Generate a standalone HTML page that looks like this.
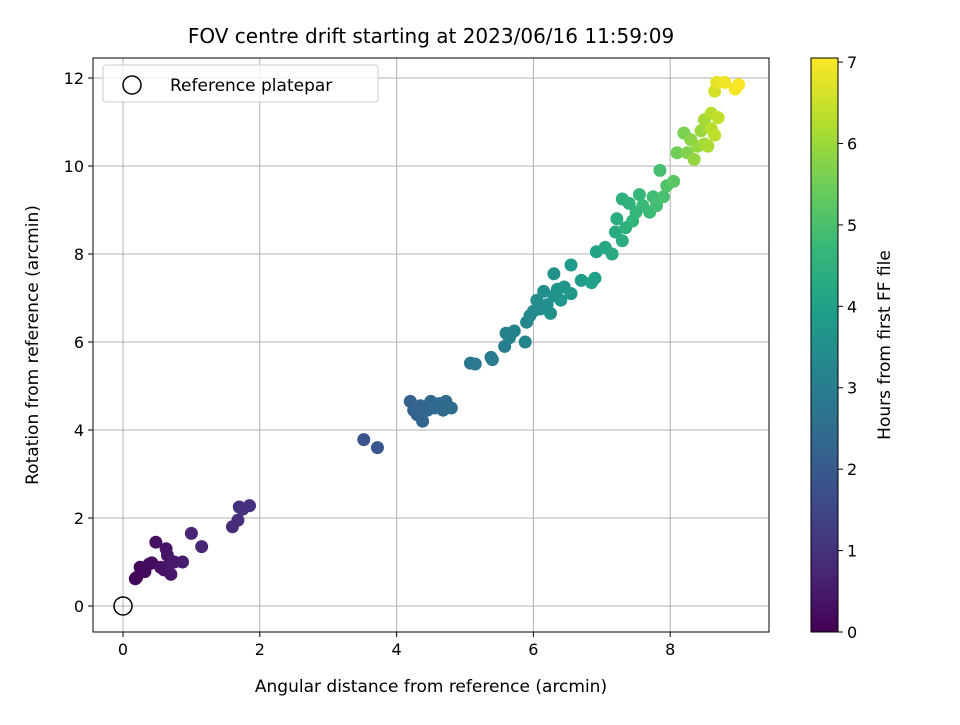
<!DOCTYPE html>
<html><head><meta charset="utf-8"><style>
body{margin:0;background:#fff;}
svg text{font-family:"DejaVu Sans","Liberation Sans",sans-serif;fill:#000;}
</style></head><body>
<svg id="chart" width="960" height="720" viewBox="0 0 960 720" xmlns="http://www.w3.org/2000/svg">
<defs><linearGradient id="vir" x1="0" y1="1" x2="0" y2="0"></linearGradient></defs>
<text x="431" y="43" font-size="20" text-anchor="middle">FOV centre drift starting at 2023/06/16 11:59:09</text>
<g id="grid"></g><g id="pts"></g><g id="axes"></g>
<text x="431" y="692" font-size="17" text-anchor="middle">Angular distance from reference (arcmin)</text>
<text x="38" y="345" font-size="17" text-anchor="middle" transform="rotate(-90 38 345)">Rotation from reference (arcmin)</text>
<text x="890" y="345" font-size="17" text-anchor="middle" transform="rotate(-90 890 345)">Hours from first FF file</text>
<g>
<rect x="103" y="65" width="275" height="37" rx="3" fill="#fff" fill-opacity="0.8" stroke="#ccc"/>
<circle cx="132" cy="85" r="9" fill="none" stroke="#000" stroke-width="1.5"/>
<text x="170" y="91" font-size="17">Reference platepar</text>
</g>
</svg>
<script>
const xs=[0.18,0.2,0.25,0.32,0.38,0.42,0.48,0.55,0.6,0.63,0.65,0.68,0.7,0.75,0.87,1.0,1.15,1.6,1.68,1.7,1.75,1.85,3.52,3.72,4.2,4.25,4.3,4.35,4.38,4.45,4.5,4.55,4.62,4.68,4.72,4.8,5.08,5.15,5.38,5.4,5.58,5.6,5.65,5.72,5.88,5.9,5.95,6.0,6.05,6.1,6.15,6.2,6.25,6.3,6.3,6.35,6.4,6.45,6.55,6.55,6.7,6.85,6.9,6.92,7.05,7.15,7.2,7.22,7.3,7.3,7.35,7.4,7.45,7.5,7.55,7.6,7.7,7.75,7.8,7.85,7.9,7.95,8.05,8.1,8.2,8.25,8.3,8.35,8.4,8.45,8.5,8.5,8.55,8.6,8.6,8.65,8.7,8.65,8.68,8.8,8.95,9.0];
const ys=[0.62,0.65,0.88,0.78,0.95,0.98,1.45,0.88,0.82,1.3,1.15,0.95,0.72,1.0,1.0,1.65,1.35,1.8,1.95,2.25,2.2,2.28,3.78,3.6,4.65,4.45,4.35,4.55,4.2,4.45,4.65,4.5,4.6,4.45,4.65,4.5,5.52,5.5,5.65,5.6,5.9,6.2,6.1,6.25,6.0,6.45,6.6,6.7,6.95,6.75,7.15,6.85,6.65,7.05,7.55,7.2,6.95,7.25,7.1,7.75,7.4,7.35,7.45,8.05,8.15,8.0,8.5,8.8,8.3,9.25,8.6,9.15,8.75,8.95,9.35,9.1,8.95,9.3,9.1,9.9,9.3,9.55,9.65,10.3,10.75,10.3,10.6,10.15,10.45,10.8,10.5,11.05,10.45,11.2,10.85,10.7,11.1,11.7,11.9,11.9,11.75,11.85];
const hours=[0.1,0.1,0.15,0.2,0.2,0.25,0.3,0.3,0.35,0.4,0.4,0.45,0.45,0.5,0.55,0.7,0.75,0.85,0.9,0.95,1.0,1.0,1.8,1.85,2.2,2.2,2.25,2.3,2.3,2.35,2.35,2.4,2.4,2.45,2.45,2.5,2.8,2.85,2.9,2.95,3.0,3.05,3.1,3.1,3.2,3.25,3.3,3.35,3.4,3.4,3.5,3.5,3.55,3.6,3.6,3.65,3.7,3.7,3.75,3.8,3.9,4.0,4.0,4.1,4.2,4.25,4.3,4.35,4.4,4.45,4.5,4.55,4.6,4.65,4.7,4.75,4.8,4.85,4.9,4.95,5.0,5.1,5.2,5.5,5.6,5.7,5.8,5.9,5.95,6.0,6.05,6.1,6.15,6.3,6.3,6.35,6.4,6.6,6.8,6.9,6.95,7.0];
const xTicks=[0,2,4,6,8];
const yTicks=[0,2,4,6,8,10,12];
const cTicks=[0,1,2,3,4,5,6,7];
const L=93,R=769,T=58,B=632,CL=811,CR=838,HMAX=7.05;
const sx=v=>123+v*68.4, sy=v=>606-v*44, sc=v=>B-v/HMAX*(B-T);
const V=[[68,1,84],[72,40,120],[62,74,137],[49,104,142],[38,130,142],[31,158,137],[53,183,121],[109,205,89],[180,222,44],[253,231,37]];
function vir(t){t=Math.max(0,Math.min(1,t))*9;const i=Math.min(8,Math.floor(t)),f=t-i;const c=V[i].map((a,k)=>Math.round(a+(V[i+1][k]-a)*f));return `rgb(${c})`;}
const NS="http://www.w3.org/2000/svg";
function mk(tag,at,parent){const e=document.createElementNS(NS,tag);for(const k in at)e.setAttribute(k,at[k]);parent.appendChild(e);return e;}
const svg=document.getElementById('chart'),grid=document.getElementById('grid'),pts=document.getElementById('pts'),axes=document.getElementById('axes');
xTicks.forEach(t=>{const x=sx(t);
const g=mk('line',{x1:x,x2:x,y1:T,y2:B,stroke:'#b0b0b0','stroke-width':1},grid);

mk('line',{x1:x,x2:x,y1:B,y2:B+5,stroke:'#000'},axes);
const tx=mk('text',{x:x,y:B+23,'font-size':16,'text-anchor':'middle'},axes);tx.textContent=t;
});
yTicks.forEach(t=>{const y=sy(t);
const g=mk('line',{x1:L,x2:R,y1:y,y2:y,stroke:'#b0b0b0','stroke-width':1},grid);

mk('line',{x1:L-5,x2:L,y1:y,y2:y,stroke:'#000'},axes);
const tx=mk('text',{x:L-9,y:y+6,'font-size':16,'text-anchor':'end'},axes);tx.textContent=t;
});
xs.forEach((x,i)=>{const c=mk('circle',{cx:sx(x),cy:sy(ys[i]),r:6.5,fill:vir(hours[i]/HMAX)},pts);
});
const ref=mk('circle',{cx:sx(0),cy:sy(0),r:9,fill:'none',stroke:'#000','stroke-width':1.5},pts);

const fr=mk('rect',{x:L,y:T,width:R-L,height:B-T,fill:'none',stroke:'#000','stroke-width':1},axes);

const grad=document.getElementById('vir');
for(let i=0;i<=9;i++)mk('stop',{offset:(i/9*100)+'%','stop-color':`rgb(${V[i]})`},grad);
const cb=mk('rect',{x:CL,y:T,width:CR-CL,height:B-T,fill:'url(#vir)',stroke:'#000','stroke-width':1},svg);

cTicks.forEach(t=>{const y=sc(t);
mk('line',{x1:CR,x2:CR+5,y1:y,y2:y,stroke:'#000'},svg);
const tx=mk('text',{x:CR+9,y:y+6,'font-size':16},svg);tx.textContent=t;
});
</script>
</body></html>
